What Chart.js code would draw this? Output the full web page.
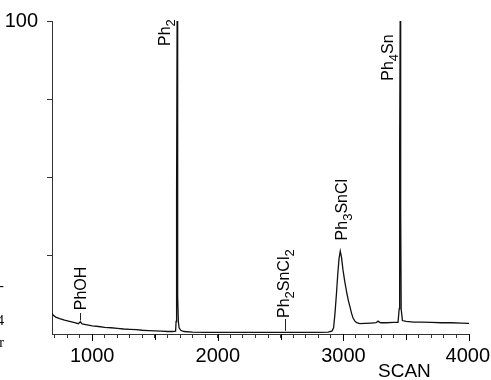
<!DOCTYPE html>
<html>
<head>
<meta charset="utf-8">
<script src="https://cdn.jsdelivr.net/npm/chart.js@4/dist/chart.umd.min.js"></script>
<style>
  html, body { margin: 0; padding: 0; background: #fff; }
  canvas { display: block; }
</style>
</head>
<body>
<canvas id="scanChart" width="491" height="380"></canvas>
<script>
// scan number / relative intensity (%)
const scans = [680, 690, 710, 740, 780, 820, 860, 890, 905, 920, 960, 1000, 1050, 1100, 1150, 1200,
  1250, 1300, 1350, 1400, 1450, 1500, 1550, 1600, 1640, 1664, 1668, 1672, 1676, 1679, 1682, 1686,
  1692, 1705, 1730, 1800, 1900, 2000, 2100, 2200, 2300, 2400, 2500, 2600, 2700, 2800, 2880, 2910,
  2922, 2933, 2945, 2955, 2965, 2975, 2985, 2997, 3012, 3027, 3040, 3053, 3065, 3077, 3090, 3106,
  3130, 3170, 3220, 3260, 3276, 3295, 3340, 3400, 3435, 3444, 3448, 3452, 3456, 3460, 3470, 3500,
  3560, 3620, 3700, 3780, 3860, 3940, 4000];
const intensity = [6.6, 6.0, 5.4, 4.9, 4.4, 4.0, 3.6, 3.3, 3.9, 3.2, 2.9, 2.6, 2.4, 2.1, 2.0, 1.8,
  1.6, 1.5, 1.4, 1.2, 1.1, 1.0, 0.9, 0.8, 0.8, 0.9, 4, 45, 100, 55, 12, 4,
  2, 1.2, 0.8, 0.6, 0.5, 0.5, 0.5, 0.5, 0.5, 0.5, 0.5, 0.5, 0.5, 0.5, 0.6, 1.0,
  2, 6.6, 13, 19, 24, 26.5, 24.5, 20.4, 16.5, 13.1, 10.6, 8.6, 6.6, 5.1, 4.2, 3.6,
  3.3, 3.4, 3.5, 3.6, 4.1, 3.6, 3.6, 3.7, 3.7, 8, 60, 100, 40, 8, 4.3, 4.0,
  3.8, 3.8, 3.7, 3.6, 3.6, 3.5, 3.4];

const xTickLabels = [1000, 2000, 3000, 4000];
const xMinorStep = 100;
const yTickLabels = [100];
const xTitle = 'SCAN';

// peak names, pieces flagged 1 are subscripts
const peakNames = [
  [['PhOH', 0]],
  [['Ph', 0], ['2', 1]],
  [['Ph', 0], ['2', 1], ['SnCl', 0], ['2', 1]],
  [['Ph', 0], ['3', 1], ['SnCl', 0]],
  [['Ph', 0], ['4', 1], ['Sn', 0]]
];
// where each name starts (baseline, in scan / % units)
const peakSpots = [[952, 7.6], [1621, 92], [2568, 5.1], [3029, 29.9], [3395, 80.9]];
// short leader marks under some names: scan, from %, to %
const leaders = [[905, 4.3, 6.7], [2536, 1.0, 4.8]];

// bits of text cut off at the left edge of the scan
const edgeBits = [['-', 290], ['4', 325], ['r', 347]];

const FONT = '"Liberation Sans", Arial, sans-serif';

const overlay = {
  id: 'overlay',
  afterDraw(chart) {
    const { ctx } = chart;
    const x = chart.scales.x, y = chart.scales.y;
    const axisY = chart.chartArea.bottom;
    ctx.save();
    ctx.fillStyle = '#000';

    // make the 500 / 1000 marks a bit longer than the minor ones
    for (let v = Math.ceil(x.min / 500) * 500; v <= x.max; v += 500) {
      const len = v % 1000 === 0 ? 7 : 6;
      const px = Math.round(x.getPixelForValue(v));
      ctx.fillRect(px, Math.round(axisY), 1, len);
    }

    // x labels
    ctx.font = '20px ' + FONT;
    ctx.textAlign = 'center';
    ctx.textBaseline = 'alphabetic';
    xTickLabels.forEach(v => {
      const w = ctx.measureText(String(v)).width;
      let px = x.getPixelForValue(v);
      px = Math.min(px, chart.width - w / 2 - 1);
      ctx.fillText(String(v), px, axisY + 28);
    });

    ctx.font = '19px ' + FONT;
    ctx.textAlign = 'left';
    ctx.fillText(xTitle, x.right - 91, axisY + 43);

    // leader marks
    ctx.strokeStyle = '#222';
    ctx.lineWidth = 1;
    leaders.forEach(([s, a, b]) => {
      const px = Math.round(x.getPixelForValue(s)) + 0.5;
      ctx.beginPath();
      ctx.moveTo(px, y.getPixelForValue(a));
      ctx.lineTo(px, y.getPixelForValue(b));
      ctx.stroke();
    });

    // rotated peak names
    peakNames.forEach((pieces, i) => {
      const [s, val] = peakSpots[i];
      ctx.save();
      ctx.translate(x.getPixelForValue(s), y.getPixelForValue(val));
      ctx.rotate(-Math.PI / 2);
      ctx.textAlign = 'left';
      let cx = 0;
      pieces.forEach(([txt, sub]) => {
        ctx.font = (sub ? '13px ' : '16px ') + FONT;
        ctx.fillText(txt, cx, sub ? 5 : 0);
        cx += ctx.measureText(txt).width;
      });
      ctx.restore();
    });

    // clipped text at the left edge
    ctx.font = '14px "Liberation Serif", serif';
    ctx.textAlign = 'right';
    edgeBits.forEach(([t, by]) => ctx.fillText(t, 4, by));

    ctx.restore();
  }
};

const ctx = document.getElementById('scanChart').getContext('2d');
const scanChart = new Chart(ctx, {
  type: 'line',
  data: {
    datasets: [{
      data: scans.map((s, i) => ({ x: s, y: intensity[i] })),
      borderColor: '#111',
      borderWidth: 1.3,
      pointRadius: 0,
      tension: 0,
      fill: false
    }]
  },
  options: {
    responsive: false,
    animation: false,
    devicePixelRatio: 1,
    layout: { padding: { top: 20, right: 22, left: 0, bottom: 0 } },
    plugins: { legend: { display: false }, tooltip: { enabled: false } },
    scales: {
      x: {
        type: 'linear',
        min: 680,
        max: 4000,
        afterFit: s => { s.height = 46; },
        ticks: {
          stepSize: xMinorStep,
          includeBounds: false,
          autoSkip: false,
          maxRotation: 0,
          font: { size: 1 },
          callback: () => ''
        },
        grid: {
          drawOnChartArea: false,
          drawTicks: true,
          tickLength: 4,
          tickColor: '#333'
        },
        border: { display: true, color: '#333', width: 1 }
      },
      y: {
        min: 0,
        max: 100,
        afterFit: s => { s.width = 52; },
        ticks: {
          stepSize: 25,
          padding: 9,
          color: '#000',
          font: { family: FONT, size: 20 },
          callback: v => yTickLabels.includes(v) ? String(v) : ''
        },
        grid: {
          drawOnChartArea: false,
          tickLength: 5,
          tickColor: c => c.tick && c.tick.value === 0 ? 'rgba(0,0,0,0)' : '#333'
        },
        border: { display: true, color: '#333', width: 1 }
      }
    }
  },
  plugins: [overlay]
});
</script>
</body>
</html>
